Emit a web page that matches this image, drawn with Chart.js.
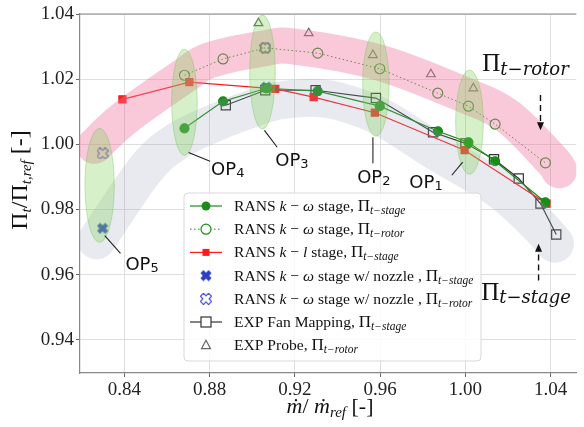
<!DOCTYPE html>
<html>
<head>
<meta charset="utf-8">
<script src="https://cdn.jsdelivr.net/npm/chart.js@4.4.1/dist/chart.umd.min.js"></script>
<style>
  body { margin: 0; background: #fff; }
  canvas { display: block; }
</style>
</head>
<body>
<canvas id="chart" width="584" height="427"></canvas>
<script>
// tick labels
const xTicks = [0.84, 0.88, 0.92, 0.96, 1.00, 1.04];
const yTicks = [0.94, 0.96, 0.98, 1.00, 1.02, 1.04];

// RANS k-omega stage, total pressure ratio stage
const kwStageX = [0.8682, 0.8863, 0.9066, 0.9307, 0.9598, 0.9871, 1.0014, 1.0139, 1.0375];
const kwStageY = [1.0049, 1.0132, 1.0172, 1.0163, 1.0117, 1.0040, 1.0006, 0.9948, 0.9822];
// RANS k-omega stage, rotor
const kwRotorX = [0.8682, 0.8863, 0.9061, 0.9307, 0.9598, 0.9870, 1.0014, 1.0139, 1.0375];
const kwRotorY = [1.0212, 1.0262, 1.0296, 1.0280, 1.0232, 1.0157, 1.0117, 1.0062, 0.9943];
// RANS k-l stage
const klStageX = [0.8391, 0.8705, 0.9108, 0.9288, 0.9575, 0.9996, 1.0380];
const klStageY = [1.0138, 1.0191, 1.0170, 1.0145, 1.0097, 0.9982, 0.9818];
// RANS k-omega stage with nozzle
const nozStageX = [0.8298, 0.9066];
const nozStageY = [0.9742, 1.0175];
const nozRotorX = [0.8298, 0.9061];
const nozRotorY = [0.9972, 1.0296];
// experiments
const fanMapX = [0.8876, 0.9061, 0.9297, 0.9580, 0.9848, 1.0000, 1.0134, 1.0250, 1.0352, 1.0426];
const fanMapY = [1.0120, 1.0166, 1.0166, 1.0142, 1.0037, 1.0003, 0.9954, 0.9895, 0.9818, 0.9723];
const probeX = [0.9029, 0.9265, 0.9566, 0.9838, 1.0037];
const probeY = [1.0372, 1.0341, 1.0274, 1.0215, 1.0172];

// highlight bands (centre lines) and operating point ellipses
const rotorBandX = [0.826, 0.840, 0.868, 0.880, 0.906, 0.920, 0.960, 1.000, 1.020, 1.040, 1.044];
const rotorBandY = [0.9995, 1.008, 1.021, 1.0258, 1.0295, 1.030, 1.025, 1.015, 1.0085, 0.9955, 0.992];
const stageBandX = [0.827, 0.8502, 0.8654, 0.8821, 0.8978, 0.9117, 0.927, 0.940, 0.960, 0.987, 1.015, 1.033, 1.042];
const stageBandY = [0.9705, 0.9926, 1.0012, 1.0065, 1.0105, 1.0133, 1.0143, 1.0133, 1.0085, 0.9975, 0.9865, 0.976, 0.9695];
const opNames = ['5', '4', '3', '2', '1'];
const opCx = [0.8284, 0.8682, 0.9048, 0.9580, 1.0019];
const opCy = [0.9874, 1.0129, 1.0222, 1.0185, 1.0068];
const opRx = [0.0069, 0.0060, 0.0060, 0.0062, 0.0065];
const opRy = [0.0175, 0.0163, 0.0175, 0.0160, 0.0160];
const opLabelX = [0.8405, 0.8807, 0.9108, 0.9492, 0.9737];
const opLabelY = [0.9615, 0.9905, 0.9932, 0.9880, 0.9865];
const opLeadX = [[0.8308, 0.8382], [0.8701, 0.8802], [0.9057, 0.9117], [0.9566, 0.9566], [0.9936, 0.9987]];
const opLeadY = [[0.9720, 0.9665], [0.9975, 0.9948], [1.0043, 0.9991], [1.0022, 0.9942], [0.9905, 0.9945]];

const SERIF = '"Liberation Serif", "DejaVu Serif", serif';
const MATH = '"DejaVu Serif", serif';
const SANS = '"DejaVu Sans", sans-serif';
const GREEN = '#1a8c1a';

function pts(xs, ys) {
    return xs.map((x, i) => ({ x: x, y: ys[i] }));
}

function makeX(size, fill, stroke) {
    const c = document.createElement('canvas');
    c.width = size + 2; c.height = size + 2;
    const g = c.getContext('2d');
    const w = 0.19, L = 0.5;
    const raw = [[-w, -L], [w, -L], [w, -w], [L, -w], [L, w], [w, w], [w, L], [-w, L], [-w, w], [-L, w], [-L, -w], [-w, -w]];
    const a = Math.PI / 4;
    g.translate(c.width / 2, c.height / 2);
    g.beginPath();
    raw.forEach((p, i) => {
        const x = (p[0] * Math.cos(a) - p[1] * Math.sin(a)) * size * 1.15;
        const y = (p[0] * Math.sin(a) + p[1] * Math.cos(a)) * size * 1.15;
        if (i === 0) g.moveTo(x, y); else g.lineTo(x, y);
    });
    g.closePath();
    if (fill) { g.fillStyle = fill; g.fill(); }
    if (stroke) { g.strokeStyle = stroke; g.lineWidth = 1.1; g.stroke(); }
    return c;
}
const xFilled = makeX(10, '#2a3fc4', null);
const xOpen = makeX(10, null, '#4040d8');

function drawSegs(ctx, segs, x, y, align) {
    let w = 0;
    segs.forEach(s => { ctx.font = s.f; w += ctx.measureText(s.t).width; });
    let cx = align === 'center' ? x - w / 2 : x;
    segs.forEach(s => {
        ctx.font = s.f;
        ctx.fillText(s.t, cx, y + (s.dy || 0));
        cx += ctx.measureText(s.t).width;
    });
    return w;
}

function smoothPath(ctx, p) {
    ctx.beginPath();
    ctx.moveTo(p[0][0], p[0][1]);
    for (let i = 0; i < p.length - 1; i++) {
        const p0 = p[i - 1] || p[i], p1 = p[i], p2 = p[i + 1], p3 = p[i + 2] || p2;
        ctx.bezierCurveTo(p1[0] + (p2[0] - p0[0]) / 6, p1[1] + (p2[1] - p0[1]) / 6,
            p2[0] - (p3[0] - p1[0]) / 6, p2[1] - (p3[1] - p1[1]) / 6, p2[0], p2[1]);
    }
}

function arrow(ctx, x, y0, y1) {
    ctx.save();
    ctx.strokeStyle = '#111'; ctx.fillStyle = '#111';
    ctx.lineWidth = 1.4;
    ctx.setLineDash([6, 4]);
    const dir = Math.sign(y1 - y0);
    ctx.beginPath(); ctx.moveTo(x, y0); ctx.lineTo(x, y1 - dir * 6); ctx.stroke();
    ctx.setLineDash([]);
    ctx.beginPath(); ctx.moveTo(x, y1); ctx.lineTo(x - 3.5, y1 - dir * 8); ctx.lineTo(x + 3.5, y1 - dir * 8); ctx.closePath(); ctx.fill();
    ctx.restore();
}

const it = s => 'italic ' + s + 'px ' + SERIF;
const rm = s => s + 'px ' + SERIF;
const FS = 15.6;
const sub = (t) => ({ t: t, f: it(11.5), dy: 3 });
const legendItems = [
    [{ t: 'RANS ', f: rm(FS) }, { t: 'k', f: it(FS) }, { t: ' \u2212 ', f: rm(FS) }, { t: '\u03c9', f: it(FS) }, { t: ' stage, ', f: rm(FS) }, { t: '\u03a0', f: rm(17) }, sub('t\u2212stage')],
    [{ t: 'RANS ', f: rm(FS) }, { t: 'k', f: it(FS) }, { t: ' \u2212 ', f: rm(FS) }, { t: '\u03c9', f: it(FS) }, { t: ' stage, ', f: rm(FS) }, { t: '\u03a0', f: rm(17) }, sub('t\u2212rotor')],
    [{ t: 'RANS ', f: rm(FS) }, { t: 'k', f: it(FS) }, { t: ' \u2212 ', f: rm(FS) }, { t: 'l', f: it(FS) }, { t: ' stage, ', f: rm(FS) }, { t: '\u03a0', f: rm(17) }, sub('t\u2212stage')],
    [{ t: 'RANS ', f: rm(FS) }, { t: 'k', f: it(FS) }, { t: ' \u2212 ', f: rm(FS) }, { t: '\u03c9', f: it(FS) }, { t: ' stage w/ nozzle , ', f: rm(FS) }, { t: '\u03a0', f: rm(17) }, sub('t\u2212stage')],
    [{ t: 'RANS ', f: rm(FS) }, { t: 'k', f: it(FS) }, { t: ' \u2212 ', f: rm(FS) }, { t: '\u03c9', f: it(FS) }, { t: ' stage w/ nozzle , ', f: rm(FS) }, { t: '\u03a0', f: rm(17) }, sub('t\u2212rotor')],
    [{ t: 'EXP Fan Mapping, ', f: rm(FS) }, { t: '\u03a0', f: rm(17) }, sub('t\u2212stage')],
    [{ t: 'EXP Probe, ', f: rm(FS) }, { t: '\u03a0', f: rm(17) }, sub('t\u2212rotor')]
];

const decor = {
    id: 'decor',
    afterDatasetsDraw(chart) {
        const ctx = chart.ctx, xs = chart.scales.x, ys = chart.scales.y;
        const area = chart.chartArea;
        ctx.save();
        ctx.beginPath(); ctx.rect(area.left, area.top, area.right - area.left, area.bottom - area.top); ctx.clip();
        ctx.lineCap = 'round'; ctx.lineJoin = 'round';
        smoothPath(ctx, rotorBandX.map((x, i) => [xs.getPixelForValue(x), ys.getPixelForValue(rotorBandY[i])]));
        ctx.strokeStyle = 'rgba(240,120,160,0.4)'; ctx.lineWidth = 36; ctx.stroke();
        smoothPath(ctx, stageBandX.map((x, i) => [xs.getPixelForValue(x), ys.getPixelForValue(stageBandY[i])]));
        ctx.strokeStyle = 'rgba(150,160,185,0.22)'; ctx.lineWidth = 38; ctx.stroke();
        opCx.forEach((cx, i) => {
            const px = xs.getPixelForValue(cx), py = ys.getPixelForValue(opCy[i]);
            const rx = Math.abs(xs.getPixelForValue(cx + opRx[i]) - px);
            const ry = Math.abs(ys.getPixelForValue(opCy[i] + opRy[i]) - py);
            ctx.beginPath(); ctx.ellipse(px, py, rx, ry, 0, 0, Math.PI * 2);
            ctx.fillStyle = 'rgba(120,210,80,0.3)'; ctx.fill();
            ctx.strokeStyle = 'rgba(110,190,80,0.35)'; ctx.lineWidth = 1; ctx.stroke();
        });
        ctx.restore();
    },
    afterDraw(chart) {
        const ctx = chart.ctx, xs = chart.scales.x, ys = chart.scales.y;
        const area = chart.chartArea;
        const X = v => xs.getPixelForValue(v), Y = v => ys.getPixelForValue(v);
        ctx.save();
        // top spine
        ctx.strokeStyle = '#888'; ctx.lineWidth = 1.2;
        ctx.beginPath(); ctx.moveTo(area.left, area.top); ctx.lineTo(area.right, area.top); ctx.stroke();

        // operating point labels
        ctx.fillStyle = '#111'; ctx.strokeStyle = '#222'; ctx.lineWidth = 1.1;
        opNames.forEach((n, i) => {
            ctx.beginPath();
            ctx.moveTo(X(opLeadX[i][0]), Y(opLeadY[i][0]));
            ctx.lineTo(X(opLeadX[i][1]), Y(opLeadY[i][1]));
            ctx.stroke();
            drawSegs(ctx, [{ t: 'OP', f: '18px ' + SANS }, { t: n, f: '13px ' + SANS, dy: 2 }], X(opLabelX[i]), Y(opLabelY[i]), 'left');
        });

        // rotor / stage labels with arrows
        drawSegs(ctx, [{ t: '\u03a0', f: rm(25) }, { t: 't\u2212rotor', f: 'italic 18px ' + MATH, dy: 4 }], X(1.0079), Y(1.0225), 'left');
        drawSegs(ctx, [{ t: '\u03a0', f: rm(25) }, { t: 't\u2212stage', f: 'italic 18px ' + MATH, dy: 3 }], X(1.0074), Y(0.9523), 'left');
        arrow(ctx, X(1.0352), Y(1.0151), Y(1.0043));
        arrow(ctx, X(1.0343), Y(0.9582), Y(0.9695));

        // legend
        const lx = 184, ly = 193, lw = 297, lh = 168;
        ctx.beginPath(); ctx.roundRect(lx, ly, lw, lh, 4);
        ctx.fillStyle = 'rgba(255,255,255,0.85)'; ctx.fill();
        ctx.strokeStyle = '#d8d8d8'; ctx.lineWidth = 1; ctx.stroke();
        legendItems.forEach((segs, i) => {
            const cy = 206 + i * 23.2, hx = 206;
            ctx.save();
            if (i === 0 || i === 1 || i === 2 || i === 5) {
                ctx.strokeStyle = i === 2 ? '#ff1a1a' : (i === 5 ? '#333' : GREEN);
                ctx.lineWidth = 1.2;
                if (i === 1) { ctx.setLineDash([1.5, 2.5]); ctx.lineWidth = 1; }
                ctx.beginPath(); ctx.moveTo(190, cy); ctx.lineTo(222, cy); ctx.stroke();
                ctx.setLineDash([]);
            }
            ctx.lineWidth = 1.2;
            if (i === 0) { ctx.fillStyle = GREEN; ctx.beginPath(); ctx.arc(hx, cy, 4.5, 0, Math.PI * 2); ctx.fill(); }
            if (i === 1) { ctx.strokeStyle = GREEN; ctx.fillStyle = '#fff'; ctx.beginPath(); ctx.arc(hx, cy, 5, 0, Math.PI * 2); ctx.fill(); ctx.stroke(); }
            if (i === 2) { ctx.fillStyle = '#ff1a1a'; ctx.fillRect(hx - 3.5, cy - 3.5, 7, 7); }
            if (i === 3) ctx.drawImage(xFilled, hx - xFilled.width / 2, cy - xFilled.height / 2);
            if (i === 4) ctx.drawImage(xOpen, hx - xOpen.width / 2, cy - xOpen.height / 2);
            if (i === 5) { ctx.strokeStyle = '#333'; ctx.fillStyle = '#fff'; ctx.fillRect(hx - 5, cy - 5, 10, 10); ctx.strokeRect(hx - 5, cy - 5, 10, 10); }
            if (i === 6) {
                ctx.strokeStyle = '#666';
                ctx.beginPath(); ctx.moveTo(hx, cy - 5); ctx.lineTo(hx + 4.5, cy + 3.5); ctx.lineTo(hx - 4.5, cy + 3.5); ctx.closePath(); ctx.stroke();
            }
            ctx.restore();
            ctx.fillStyle = '#111';
            drawSegs(ctx, segs, 234, cy + 5, 'left');
        });

        // axis titles
        ctx.fillStyle = '#111';
        drawSegs(ctx, [{ t: '\u1e41', f: it(22) }, { t: '/ ', f: rm(22) }, { t: '\u1e41', f: it(22) }, { t: 'ref', f: it(15), dy: 4 }, { t: ' [-]', f: rm(22) }], 330, 413, 'center');
        ctx.translate(27, 180);
        ctx.rotate(-Math.PI / 2);
        drawSegs(ctx, [{ t: '\u03a0', f: rm(24) }, { t: 't', f: it(15), dy: 4 }, { t: '/', f: rm(24) }, { t: '\u03a0', f: rm(24) }, { t: 't,ref', f: it(15), dy: 4 }, { t: ' [-]', f: rm(24) }], 0, 0, 'center');
        ctx.restore();
    }
};

const tickFont = { family: SERIF, size: 19 };

new Chart(document.getElementById('chart'), {
    type: 'line',
    data: {
        datasets: [
            { data: pts(kwStageX, kwStageY), borderColor: GREEN, backgroundColor: GREEN, borderWidth: 1.2, pointRadius: 4.5, pointStyle: 'circle' },
            { data: pts(kwRotorX, kwRotorY), borderColor: GREEN, backgroundColor: 'rgba(0,0,0,0)', borderWidth: 1, borderDash: [1.5, 2.5], pointRadius: 5, pointBorderWidth: 1.2, pointStyle: 'circle' },
            { data: pts(klStageX, klStageY), borderColor: '#ff1a1a', backgroundColor: '#ff1a1a', borderWidth: 1.2, pointRadius: 5, pointStyle: 'rect' },
            { data: pts(fanMapX, fanMapY), borderColor: '#333', backgroundColor: 'rgba(0,0,0,0)', borderWidth: 1.2, pointRadius: 6.5, pointBorderWidth: 1.2, pointStyle: 'rect' },
            { data: pts(probeX, probeY), showLine: false, borderColor: '#666', backgroundColor: 'rgba(0,0,0,0)', pointRadius: 5, pointBorderWidth: 1.2, pointStyle: 'triangle' },
            { data: pts(nozRotorX, nozRotorY), showLine: false, pointStyle: xOpen },
            { data: pts(nozStageX, nozStageY), showLine: false, pointStyle: xFilled }
        ]
    },
    options: {
        responsive: false,
        animation: false,
        devicePixelRatio: 1,
        layout: { padding: { top: 14, right: 0, left: 0, bottom: 0 } },
        plugins: { legend: { display: false }, tooltip: { enabled: false } },
        scales: {
            x: {
                type: 'linear', min: 0.8192, max: 1.052,
                afterBuildTicks: axis => { axis.ticks = xTicks.map(v => ({ value: v })); },
                afterFit: axis => { axis.height = 54; },
                ticks: { callback: v => v.toFixed(2), font: tickFont, color: '#222', padding: 2, maxRotation: 0 },
                grid: { color: '#dedede', tickColor: '#666', tickLength: 4 },
                border: { color: '#888', width: 1.2 }
            },
            y: {
                type: 'linear', min: 0.9298, max: 1.04,
                afterBuildTicks: axis => { axis.ticks = yTicks.map(v => ({ value: v })); },
                afterFit: axis => { axis.width = 80; },
                ticks: { callback: v => v.toFixed(2), font: tickFont, color: '#222', padding: 2 },
                grid: { color: '#dedede', tickColor: '#666', tickLength: 4 },
                border: { color: '#888', width: 1.2 }
            }
        }
    },
    plugins: [decor]
});
</script>
</body>
</html>
